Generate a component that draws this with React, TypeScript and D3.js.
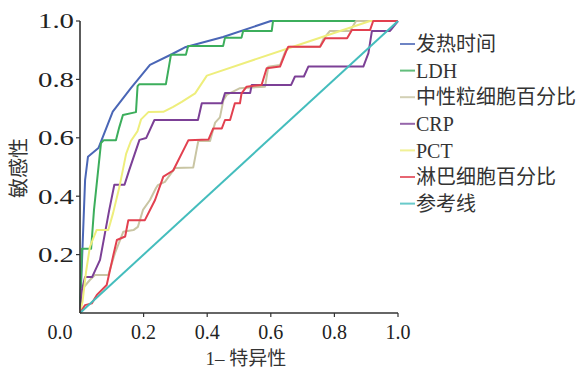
import React from "react";
import * as d3 from "d3";

// ROC curves, points as [1-specificity, sensitivity]
const fever: [number, number][] = [
  [0, 0], [0.016, 0.455], [0.025, 0.535], [0.058, 0.565], [0.103, 0.69],
  [0.16, 0.77], [0.22, 0.85], [0.29, 0.887], [0.33, 0.91], [0.45, 0.945],
  [0.6, 1.0], [1, 1],
];
const ldh: [number, number][] = [
  [0, 0], [0.006, 0.22], [0.035, 0.22], [0.044, 0.353], [0.066, 0.582],
  [0.075, 0.592], [0.113, 0.592], [0.123, 0.634], [0.135, 0.678], [0.176, 0.688],
  [0.181, 0.777], [0.186, 0.783], [0.27, 0.783], [0.286, 0.884], [0.333, 0.884],
  [0.34, 0.914], [0.45, 0.914], [0.456, 0.943], [0.508, 0.943], [0.513, 0.966],
  [0.603, 0.966], [0.607, 1.0], [1, 1],
];
const neut: [number, number][] = [
  [0, 0], [0.005, 0.079], [0.031, 0.113], [0.047, 0.13], [0.089, 0.13],
  [0.11, 0.205], [0.136, 0.278], [0.168, 0.284], [0.182, 0.295], [0.198, 0.353],
  [0.22, 0.387], [0.239, 0.428], [0.245, 0.438], [0.267, 0.449], [0.299, 0.497],
  [0.356, 0.498], [0.367, 0.561], [0.372, 0.589], [0.409, 0.589], [0.419, 0.629],
  [0.425, 0.652], [0.44, 0.67], [0.451, 0.729], [0.461, 0.747], [0.503, 0.77],
  [0.582, 0.775], [0.592, 0.843], [0.629, 0.849], [0.645, 0.894], [0.66, 0.912],
  [0.755, 0.912], [0.765, 0.938], [0.786, 0.966], [0.849, 0.966], [0.868, 1.0],
  [1, 1],
];
const crp: [number, number][] = [
  [0, 0], [0.006, 0.079], [0.016, 0.123], [0.038, 0.123], [0.063, 0.182],
  [0.092, 0.353], [0.108, 0.439], [0.14, 0.439], [0.155, 0.49], [0.187, 0.593],
  [0.208, 0.599], [0.234, 0.661], [0.371, 0.661], [0.383, 0.718], [0.446, 0.718],
  [0.456, 0.753], [0.535, 0.753], [0.54, 0.781], [0.664, 0.781], [0.676, 0.81],
  [0.704, 0.81], [0.718, 0.844], [0.891, 0.844], [0.907, 0.89], [0.918, 0.966],
  [0.975, 0.966], [1, 1],
];
const pct: [number, number][] = [
  [0, 0], [0.008, 0.039], [0.019, 0.141], [0.031, 0.226], [0.052, 0.284],
  [0.089, 0.284], [0.104, 0.342], [0.124, 0.432], [0.145, 0.545], [0.16, 0.589],
  [0.181, 0.623], [0.192, 0.663], [0.215, 0.688], [0.262, 0.689], [0.293, 0.706],
  [0.32, 0.723], [0.362, 0.752], [0.399, 0.813], [0.67, 0.912], [0.912, 1.0],
  [1, 1],
];
const lymph: [number, number][] = [
  [0, 0], [0.016, 0.027], [0.037, 0.033], [0.053, 0.062], [0.084, 0.096],
  [0.105, 0.199], [0.116, 0.25], [0.142, 0.262], [0.152, 0.318], [0.204, 0.318],
  [0.236, 0.387], [0.262, 0.467], [0.293, 0.488], [0.33, 0.568], [0.341, 0.592],
  [0.404, 0.594], [0.419, 0.632], [0.446, 0.632], [0.456, 0.661], [0.472, 0.661],
  [0.487, 0.718], [0.503, 0.718], [0.508, 0.752], [0.524, 0.775], [0.571, 0.781],
  [0.587, 0.838], [0.629, 0.844], [0.65, 0.901], [0.655, 0.912], [0.755, 0.912],
  [0.771, 0.941], [0.84, 0.941], [0.855, 0.969], [0.912, 0.969], [0.922, 1.0],
  [1, 1],
];
const reference: [number, number][] = [[0, 0], [1, 1]];

const seriesNames = ["发热时间", "LDH", "中性粒细胞百分比", "CRP", "PCT", "淋巴细胞百分比", "参考线"];
const seriesData = [fever, ldh, neut, crp, pct, lymph, reference];
const seriesColors = ["#4a66b6", "#3cae5c", "#c9c5a3", "#7c4096", "#eeee7c", "#e2404f", "#44bdbd"];

const xTicks = [0, 0.2, 0.4, 0.6, 0.8, 1.0];
const yTicks = [0.2, 0.4, 0.6, 0.8, 1.0];

const width = 588;
const height = 370;
const margin = { top: 21, right: 190, bottom: 57, left: 80 };

const serif = "'Liberation Serif', 'Times New Roman', serif";
const cjk = "'Noto Sans CJK SC', 'Noto Sans', sans-serif";

export default function App() {
  const x = d3.scaleLinear().domain([0, 1]).range([margin.left, width - margin.right]);
  const y = d3.scaleLinear().domain([0, 1]).range([height - margin.bottom, margin.top]);
  const line = d3
    .line<[number, number]>()
    .x((d) => x(d[0]))
    .y((d) => y(d[1]));

  const axisColor = "#333";
  const legendX = x(1) + 2;
  const legendY = 44;
  const rowH = 26.6;

  return (
    <div style={{ position: "absolute", left: 0, top: 0 }}>
      <svg width={width} height={height} style={{ display: "block", background: "#fff" }}>
        {/* curves */}
        {seriesData.map((d, i) => (
          <path
            key={seriesNames[i]}
            d={line(d) || ""}
            fill="none"
            stroke={seriesColors[i]}
            strokeWidth={2}
            strokeLinejoin="round"
          />
        ))}

        {/* axes */}
        <line x1={x(0)} x2={x(0)} y1={y(0)} y2={y(1)} stroke={axisColor} strokeWidth={1.6} />
        <line x1={x(0)} x2={x(1)} y1={y(0)} y2={y(0)} stroke={axisColor} strokeWidth={1.6} />
        {yTicks.map((t) => (
          <g key={"y" + t}>
            <line x1={x(0) - 4} x2={x(0)} y1={y(t)} y2={y(t)} stroke={axisColor} strokeWidth={1.2} />
            <text
              x={74}
              y={y(t)}
              dy="0.35em"
              textAnchor="end"
              fontFamily={serif}
              fontSize={21}
              textLength={36}
              lengthAdjust="spacingAndGlyphs"
              fill="#222"
            >
              {t.toFixed(1)}
            </text>
          </g>
        ))}
        {xTicks.map((t) => (
          <g key={"x" + t}>
            {t > 0 && (
              <line x1={x(t)} x2={x(t)} y1={y(0)} y2={y(0) + 4} stroke={axisColor} strokeWidth={1.2} />
            )}
            <text
              x={t === 0 ? x(0) - 20 : x(t)}
              y={339}
              textAnchor="middle"
              fontFamily={serif}
              fontSize={20}
              fill="#222"
            >
              {t.toFixed(1)}
            </text>
          </g>
        ))}

        {/* axis titles */}
        <text
          transform={`translate(26,168) rotate(-90)`}
          textAnchor="middle"
          fontFamily={cjk}
          fontSize={20}
          fill="#333"
        >
          敏感性
        </text>
        <text x={246} y={365} textAnchor="middle" fontSize={19} fill="#333">
          <tspan fontFamily={serif}>1– </tspan>
          <tspan fontFamily={cjk}>特异性</tspan>
        </text>

        {/* legend */}
        {seriesNames.map((name, i) => {
          const cy = legendY + i * rowH;
          const latin = /^[A-Z]+$/.test(name);
          return (
            <g key={"lg" + name}>
              <line
                x1={legendX}
                x2={legendX + 15}
                y1={cy}
                y2={cy}
                stroke={seriesColors[i]}
                strokeWidth={2}
                opacity={0.8}
              />
              <text
                x={legendX + 16}
                y={cy}
                dy="0.36em"
                fontFamily={latin ? serif : cjk}
                fontSize={20}
                fill="#333"
              >
                {name}
              </text>
            </g>
          );
        })}
      </svg>
    </div>
  );
}
